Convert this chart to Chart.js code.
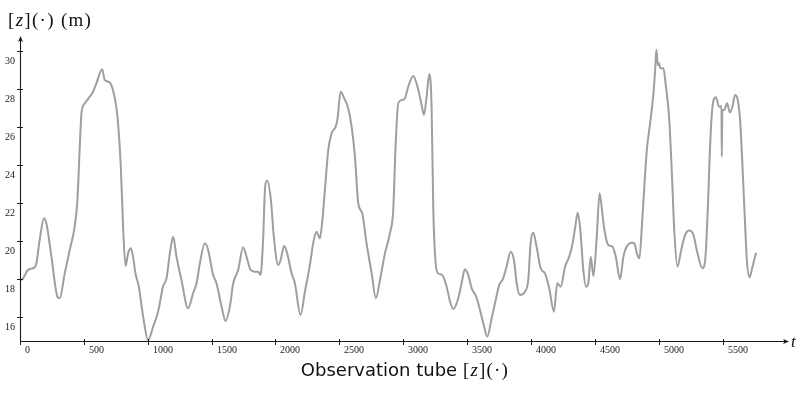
<!DOCTYPE html>
<html>
<head>
<meta charset="utf-8">
<script src="https://cdn.jsdelivr.net/npm/chart.js@4"></script>
<style>
  body { margin: 0; background: #fff; }
  #wrap { position: relative; width: 806px; height: 395px; }
  #tube { position: absolute; left: 0; top: 0; }
  .lbl { position: absolute; white-space: nowrap; color: #111; }
  .serif { font-family: "Liberation Serif", serif; }
  .sans { font-family: "DejaVu Sans", sans-serif; }
  #ylab { left: 8px; top: 10px; font-size: 19px; line-height: 19px; letter-spacing: 1.3px; }
  #tlab { left: 791px; top: 333px; font-size: 17px; line-height: 17px; }
  #title { left: 2px; width: 806px; top: 360px; text-align: center; font-size: 18px; line-height: 19px; }
  #title .serif { font-size: 19px; letter-spacing: 1.2px; }
</style>
</head>
<body>
<div id="wrap">
  <canvas id="tube" width="806" height="395"></canvas>
  <div class="lbl serif" id="ylab">[<i>z</i>](·) (m)</div>
  <div class="lbl serif" id="tlab"><i>t</i></div>
  <div class="lbl" id="title"><span class="sans">Observation tube </span><span class="serif">[<i>z</i>](·)</span></div>
</div>
<script>
// observation times and tube depth readings (m)
const times = [
  0, 24, 63, 115, 128, 154, 188, 207, 246, 293, 311, 350, 389, 428, 449, 468, 481, 507, 538, 572,
  598, 643, 663, 703, 742, 763, 789, 807, 826, 846, 867, 885, 904, 930, 964, 1003, 1042, 1081, 1120, 1147,
  1173, 1199, 1225, 1264, 1316, 1355, 1382, 1408, 1447, 1473, 1512, 1538, 1578, 1609, 1643, 1669, 1708, 1747, 1773, 1805,
  1838, 1864, 1883, 1903, 1919, 1935, 1964, 1987, 2021, 2040, 2068, 2092, 2126, 2152, 2196, 2230, 2269, 2295, 2321, 2347,
  2366, 2387, 2413, 2439, 2471, 2486, 2510, 2538, 2569, 2596, 2622, 2648, 2679, 2713, 2753, 2786, 2818, 2857, 2896, 2922,
  2940, 2961, 2987, 3013, 3039, 3079, 3118, 3144, 3162, 3183, 3204, 3222, 3235, 3254, 3274, 3305, 3340, 3366, 3392, 3431,
  3457, 3483, 3509, 3536, 3569, 3601, 3627, 3658, 3692, 3724, 3752, 3783, 3809, 3841, 3867, 3888, 3914, 3953, 3979, 3997,
  4018, 4044, 4076, 4110, 4143, 4180, 4206, 4233, 4267, 4300, 4326, 4347, 4366, 4384, 4410, 4431, 4449, 4468, 4489, 4515,
  4537, 4559, 4575, 4606, 4638, 4664, 4697, 4724, 4743, 4789, 4810, 4829, 4849, 4868, 4889, 4907, 4933, 4959, 4972, 4982,
  4993, 5003, 5011, 5037, 5055, 5081, 5103, 5123, 5147, 5176, 5207, 5239, 5272, 5298, 5342, 5364, 5385, 5402, 5421, 5447,
  5473, 5491, 5494, 5498, 5514, 5535, 5558, 5577, 5598, 5619, 5637, 5656, 5677, 5690, 5711, 5734, 5763
];
const depth = [
  17.9, 18.02, 18.46, 18.6, 18.8, 20.04, 21.18, 20.9, 19.16, 17.05, 16.97, 18.28, 19.5, 20.74, 22.1, 24.95, 26.7, 27.23, 27.5, 27.84,
  28.28, 29.02, 28.46, 28.32, 27.5, 26.53, 23.9, 20.74, 18.67, 19.33, 19.6, 19.16, 18.28, 17.58, 16.0, 14.77, 15.47, 16.26, 17.6, 18.02,
  19.33, 20.2, 19.16, 17.93, 16.44, 17.23, 17.76, 18.8, 19.86, 19.51, 18.19, 17.76, 16.53, 15.77, 16.53, 17.76, 18.46, 19.65, 19.16, 18.46,
  18.37, 18.37, 18.19, 20.04, 22.84, 23.16, 22.14, 20.2, 18.72, 18.98, 19.72, 19.33, 18.28, 17.76, 16.09, 17.3, 18.7, 19.86, 20.47, 20.12,
  21.0, 22.67, 24.77, 25.65, 26.0, 26.44, 27.84, 27.5, 26.97, 26.0, 24.42, 21.97, 21.44, 19.86, 18.28, 16.97, 17.93, 19.33, 20.39, 21.62,
  24.95, 27.23, 27.4, 27.5, 28.1, 28.67, 27.93, 27.14, 26.62, 27.58, 28.77, 27.05, 21.79, 18.8, 18.28, 18.19, 17.58, 16.8, 16.4, 16.97,
  17.76, 18.49, 18.19, 17.49, 17.09, 16.35, 15.65, 14.95, 15.91, 16.88, 17.67, 18.02, 18.63, 19.42, 18.98, 17.76, 17.14, 17.32, 17.93, 19.86,
  20.42, 19.68, 18.55, 18.28, 17.49, 16.26, 17.76, 17.58, 18.63, 19.16, 19.86, 20.74, 21.47, 20.74, 18.46, 17.58, 17.76, 19.16, 18.14, 20.2,
  22.49, 21.44, 20.56, 19.77, 19.68, 19.16, 17.97, 19.16, 19.6, 19.89, 19.86, 19.33, 19.07, 20.74, 23.02, 24.77, 26.18, 27.76, 28.98, 30.04,
  29.25, 29.34, 29.07, 29.07, 28.19, 26.53, 23.55, 20.39, 18.63, 19.51, 20.3, 20.53, 20.3, 19.51, 18.55, 18.98, 21.79, 24.95, 27.05, 27.55,
  27.05, 27.09, 24.42, 26.88, 26.88, 27.23, 26.74, 27.05, 27.67, 27.4, 26.35, 23.9, 20.74, 18.98, 18.07, 18.63, 19.37
];
const xTicks = [0, 500, 1000, 1500, 2000, 2500, 3000, 3500, 4000, 4500, 5000, 5500];
const yTicks = [16, 18, 20, 22, 24, 26, 28, 30];

// axes with arrow heads, small crossing ticks and labels tucked under each tick
const arrowAxes = {
  id: 'arrowAxes',
  afterDraw(chart) {
    const { ctx, chartArea: a, scales: { x, y } } = chart;
    const x0 = a.left, y0 = a.bottom;
    ctx.save();
    ctx.strokeStyle = '#1a1a1a';
    ctx.fillStyle = '#1a1a1a';
    ctx.lineWidth = 1.1;

    ctx.beginPath();
    ctx.moveTo(x0, y0 + 0.5);
    ctx.lineTo(a.right - 4, y0 + 0.5);
    ctx.moveTo(x0 + 0.5, y0);
    ctx.lineTo(x0 + 0.5, a.top + 4);
    ctx.stroke();

    // arrow heads
    ctx.beginPath();
    ctx.moveTo(a.right, y0 + 0.5);
    ctx.lineTo(a.right - 6, y0 - 2);
    ctx.lineTo(a.right - 4.5, y0 + 0.5);
    ctx.lineTo(a.right - 6, y0 + 3);
    ctx.closePath();
    ctx.fill();
    ctx.beginPath();
    ctx.moveTo(x0 + 0.5, a.top);
    ctx.lineTo(x0 - 2, a.top + 6);
    ctx.lineTo(x0 + 0.5, a.top + 4.5);
    ctx.lineTo(x0 + 3, a.top + 6);
    ctx.closePath();
    ctx.fill();

    ctx.font = '10px "Liberation Serif", serif';
    ctx.lineWidth = 1;
    xTicks.forEach(v => {
      const px = Math.round(x.getPixelForValue(v)) + 0.5;
      ctx.beginPath();
      ctx.moveTo(px, y0 - 2);
      ctx.lineTo(px, y0 + 4);
      ctx.stroke();
      ctx.textAlign = 'left';
      ctx.textBaseline = 'alphabetic';
      ctx.fillText(String(v), px + 4.5, y0 + 12);
    });
    yTicks.forEach(v => {
      const py = Math.round(y.getPixelForValue(v)) + 0.5;
      ctx.beginPath();
      ctx.moveTo(x0 - 3, py);
      ctx.lineTo(x0 + 3, py);
      ctx.stroke();
      ctx.textAlign = 'right';
      ctx.textBaseline = 'alphabetic';
      ctx.fillText(String(v), x0 - 5, py + 12);
    });
    ctx.restore();
  }
};

new Chart(document.getElementById('tube'), {
  type: 'line',
  data: {
    datasets: [{
      data: times.map((t, i) => ({ x: t, y: depth[i] })),
      borderColor: 'rgb(158, 158, 163)',
      borderWidth: 2,
      pointRadius: 0,
      cubicInterpolationMode: 'monotone',
      fill: false,
      clip: false
    }]
  },
  options: {
    responsive: false,
    animation: false,
    layout: { padding: { left: 20, top: 36, right: 17, bottom: 54 } },
    plugins: { legend: { display: false }, tooltip: { enabled: false } },
    scales: {
      x: { type: 'linear', min: 0, max: 6020, display: false },
      y: { min: 14.72, max: 30.77, display: false }
    }
  },
  plugins: [arrowAxes]
});
</script>
</body>
</html>
